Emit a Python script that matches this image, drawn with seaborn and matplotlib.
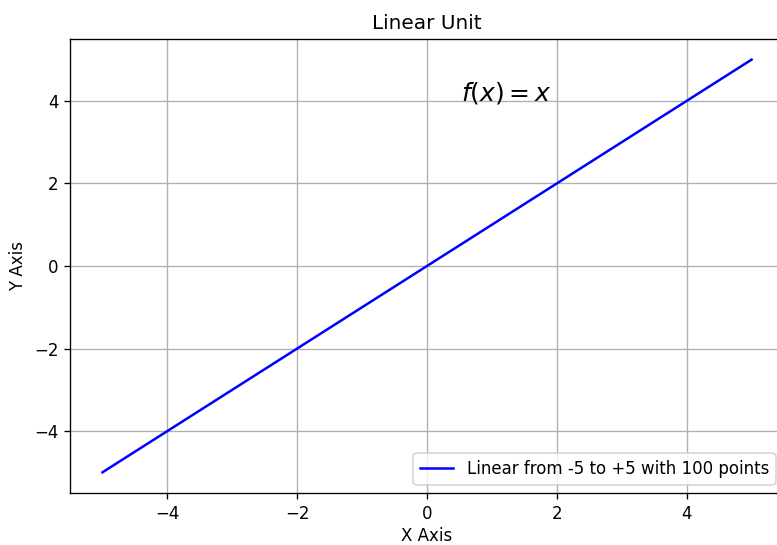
import matplotlib
matplotlib.use("Agg")
import matplotlib.pyplot as plt
import seaborn as sns
import pandas as pd

# Endpoints of the identity line f(x) = x
x_values = [-5.0, 5.0]
y_values = [-5.0, 5.0]
series_label = "Linear from -5 to +5 with 100 points"

df = pd.DataFrame({"x": x_values, "y": y_values})

DPI = 120
fig = plt.figure(figsize=(777 / DPI, 545 / DPI), dpi=DPI)
ax = fig.add_axes([0.0901, 0.0955, 0.919, 0.833])

sns.lineplot(data=df, x="x", y="y", ax=ax, color="blue", label=series_label)

ax.set_title("Linear Unit")
ax.set_xlabel("X Axis", labelpad=2.5)
ax.set_ylabel("Y Axis")
ax.grid(True)
ax.text(0.52, 4.0, r"$f(x) = x$", fontsize=15)
ax.legend(loc="lower right")

fig.savefig("out.png", dpi=DPI)
